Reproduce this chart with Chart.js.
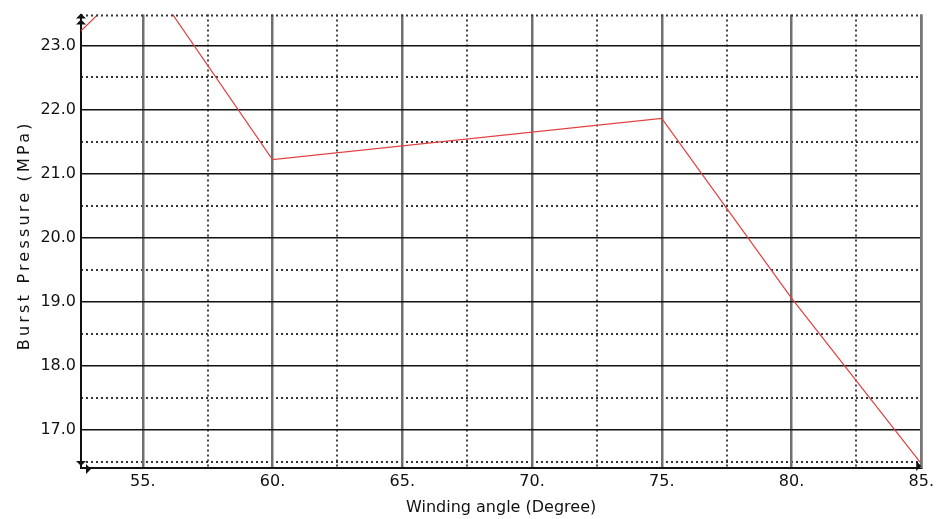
<!DOCTYPE html>
<html lang="en">
<head>
    <meta charset="UTF-8">
    <title>Burst Pressure vs Winding Angle</title>
    <script src="https://cdn.jsdelivr.net/npm/chart.js"></script>
    <style>
        html, body {
            margin: 0;
            padding: 0;
            background: #fff;
        }
        canvas {
            display: block;
        }
    </style>
</head>
<body>
    <canvas id="burstChart" width="938" height="519"></canvas>

    <script>
        // data
        const windingAngle = [50, 55, 60, 75, 80, 85];
        const burstPressure = [22.2, 24.16, 21.22, 21.86, 19.06, 16.48];

        const xMajorTicks = [55, 60, 65, 70, 75, 80, 85];
        const xMinorTicks = [57.5, 62.5, 67.5, 72.5, 77.5, 82.5];
        const yMajorTicks = [17, 18, 19, 20, 21, 22, 23];
        const yMinorTicks = [16.5, 17.5, 18.5, 19.5, 20.5, 21.5, 22.5];

        const X_MIN = 52.62, X_MAX = 85;
        const Y_MIN = 16.41, Y_MAX = 23.48;

        const yTitle = 'Burst Pressure (MPa)';
        const tickFont = { family: 'DejaVu Sans', size: 16 };

        function tri(ctx, x, y, dir, s) {
            ctx.beginPath();
            if (dir === 'up') { ctx.moveTo(x, y); ctx.lineTo(x - s, y + s); ctx.lineTo(x + s, y + s); }
            if (dir === 'down') { ctx.moveTo(x, y); ctx.lineTo(x - s, y - s); ctx.lineTo(x + s, y - s); }
            if (dir === 'right') { ctx.moveTo(x, y); ctx.lineTo(x - s, y - s); ctx.lineTo(x - s, y + s); }
            ctx.closePath();
            ctx.fill();
        }

        // frame: dotted top edge, grey right edge, little corner arrows, spaced y title
        const framePlugin = {
            id: 'frame',
            afterDatasetsDraw(chart) {
                const { ctx, chartArea: a } = chart;
                ctx.save();
                ctx.strokeStyle = '#333';
                ctx.lineWidth = 2;
                ctx.setLineDash([2, 3]);
                ctx.beginPath();
                ctx.moveTo(a.left, a.top + 1);
                ctx.lineTo(a.right, a.top + 1);
                ctx.stroke();
                ctx.setLineDash([]);
                ctx.strokeStyle = '#777';
                ctx.lineWidth = 2.5;
                ctx.beginPath();
                ctx.moveTo(a.right, a.top);
                ctx.lineTo(a.right, a.bottom);
                ctx.stroke();

                ctx.fillStyle = '#111';
                tri(ctx, a.left, a.top - 1, 'up', 5);
                tri(ctx, a.left, a.top + 5, 'up', 5);
                tri(ctx, a.left, a.bottom - 2, 'down', 5);
                tri(ctx, a.left + 10, a.bottom + 1, 'right', 5);
                tri(ctx, a.right, a.bottom - 2, 'right', 5);

                ctx.fillStyle = '#111';
                ctx.font = '16px "DejaVu Sans"';
                ctx.letterSpacing = '3.2px';
                ctx.textAlign = 'center';
                ctx.textBaseline = 'middle';
                ctx.translate(25, (a.top + a.bottom) / 2 - 6);
                ctx.rotate(-Math.PI / 2);
                ctx.fillText(yTitle, 0, 0);
                ctx.restore();
            }
        };

        new Chart(document.getElementById('burstChart'), {
            type: 'line',
            data: {
                datasets: [{
                    data: windingAngle.map((x, i) => ({ x: x, y: burstPressure[i] })),
                    borderColor: '#e04040',
                    borderWidth: 1.2,
                    pointRadius: 0,
                    tension: 0,
                    fill: false
                }]
            },
            options: {
                responsive: false,
                animation: false,
                layout: { padding: { top: 14, right: 16, left: 8, bottom: 2 } },
                plugins: {
                    legend: { display: false },
                    tooltip: { enabled: false }
                },
                scales: {
                    xMinor: {
                        type: 'linear',
                        position: 'bottom',
                        min: X_MIN,
                        max: X_MAX,
                        afterBuildTicks: s => { s.ticks = xMinorTicks.map(v => ({ value: v })); },
                        ticks: { display: false, autoSkip: false },
                        grid: { color: '#444', lineWidth: 2, drawTicks: false },
                        border: { display: false, dash: [2, 3] },
                        afterFit: s => { s.height = 0; }
                    },
                    yMinor: {
                        type: 'linear',
                        position: 'left',
                        min: Y_MIN,
                        max: Y_MAX,
                        afterBuildTicks: s => { s.ticks = yMinorTicks.map(v => ({ value: v })); },
                        ticks: { display: false, autoSkip: false },
                        grid: { color: '#333', lineWidth: 2, drawTicks: false },
                        border: { display: false, dash: [2, 3] },
                        afterFit: s => { s.width = 0; }
                    },
                    x: {
                        type: 'linear',
                        position: 'bottom',
                        min: X_MIN,
                        max: X_MAX,
                        afterBuildTicks: s => { s.ticks = xMajorTicks.map(v => ({ value: v })); },
                        ticks: {
                            font: tickFont,
                            color: '#111',
                            padding: 4,
                            maxRotation: 0,
                            autoSkip: false,
                            callback: v => v + '.'
                        },
                        grid: { color: '#707070', lineWidth: 2.5, drawTicks: false },
                        border: { display: true, color: '#111', width: 2 },
                        title: {
                            display: true,
                            text: 'Winding angle (Degree)',
                            font: { family: 'DejaVu Sans', size: 16 },
                            color: '#111',
                            padding: { top: 2, bottom: 0 }
                        },
                        afterFit: s => { s.height = 49; }
                    },
                    y: {
                        type: 'linear',
                        position: 'left',
                        min: Y_MIN,
                        max: Y_MAX,
                        afterBuildTicks: s => { s.ticks = yMajorTicks.map(v => ({ value: v })); },
                        ticks: {
                            font: tickFont,
                            color: '#111',
                            padding: 5,
                            autoSkip: false,
                            callback: v => v.toFixed(1)
                        },
                        grid: { color: '#111', lineWidth: 1.5, drawTicks: false },
                        border: { display: true, color: '#111', width: 2 },
                        afterFit: s => { s.width = 73; }
                    }
                }
            },
            plugins: [framePlugin]
        });
    </script>
</body>
</html>
